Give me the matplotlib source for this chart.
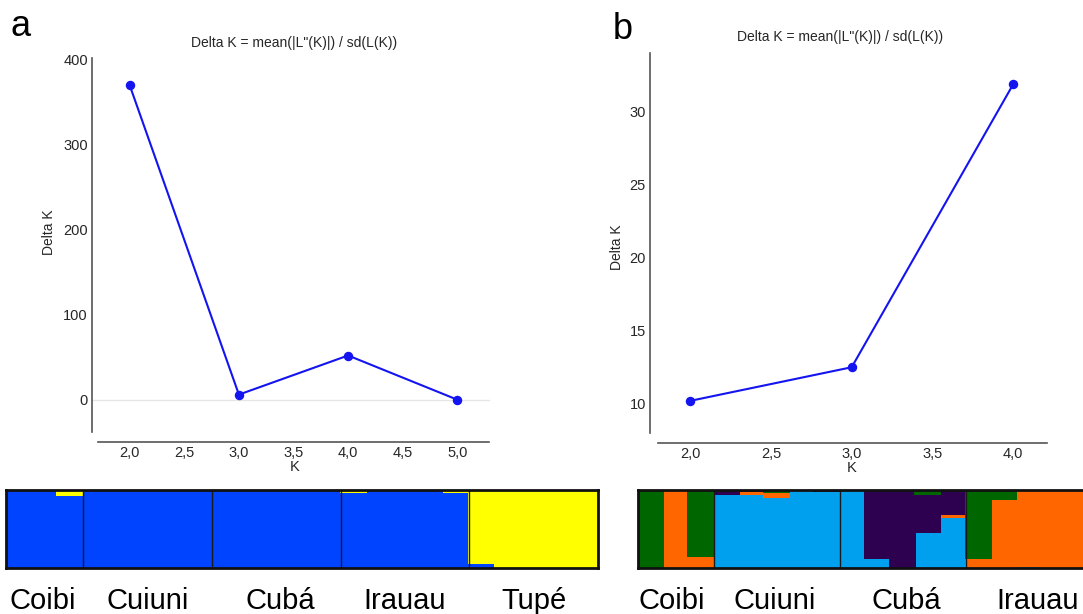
import matplotlib
matplotlib.use('Agg')
import matplotlib.pyplot as plt
from matplotlib.ticker import FixedLocator, FuncFormatter
import numpy as np

plt.rcParams['font.family'] = ['Liberation Sans', 'DejaVu Sans']

# ---------------- data ----------------
k_a = [2, 3, 4, 5]
dk_a = [370, 6, 52, 0]
k_b = [2, 3, 4]
dk_b = [10.2, 12.5, 31.85]
xticks_a = [2.0, 2.5, 3.0, 3.5, 4.0, 4.5, 5.0]
yticks_a = [0, 100, 200, 300, 400]
xticks_b = [2.0, 2.5, 3.0, 3.5, 4.0]
yticks_b = [10, 15, 20, 25, 30]
title_text = 'Delta K = mean(|L"(K)|) / sd(L(K))'

pops_a = ['Coibi', 'Cuiuni', 'Cubá', 'Irauau', 'Tupé']
sizes_a = [3, 5, 5, 5, 5]
a_blue = [1.0, 1.0, 0.935, 1.0, 1.0, 1.0, 1.0, 1.0, 1.0, 1.0, 1.0, 1.0, 1.0,
          0.97, 1.0, 1.0, 1.0, 0.98, 0.06, 0.0, 0.0, 0.0, 0.0]
a_yellow = [0.0, 0.0, 0.065, 0.0, 0.0, 0.0, 0.0, 0.0, 0.0, 0.0, 0.0, 0.0, 0.0,
            0.03, 0.0, 0.0, 0.0, 0.02, 0.94, 1.0, 1.0, 1.0, 1.0]

pops_b = ['Coibi', 'Cuiuni', 'Cubá', 'Irauau']
sizes_b = [3, 5, 5, 5]
b_lightblue = [0.0, 0.0, 0.0, 0.95, 0.95, 0.91, 1.0, 0.99,
               1.0, 0.13, 0.0, 0.46, 0.66, 0.0, 0.01, 0.03, 0.0, 0.0]
b_orange = [0.01, 1.0, 0.15, 0.0, 0.04, 0.07, 0.0, 0.0,
            0.0, 0.0, 0.0, 0.0, 0.03, 0.13, 0.88, 0.97, 1.0, 1.0]
b_purple = [0.0, 0.0, 0.0, 0.05, 0.01, 0.0, 0.0, 0.01,
            0.0, 0.87, 1.0, 0.49, 0.31, 0.0, 0.0, 0.0, 0.0, 0.0]
b_green = [0.99, 0.0, 0.85, 0.0, 0.0, 0.02, 0.0, 0.0,
           0.0, 0.0, 0.0, 0.05, 0.0, 0.87, 0.11, 0.0, 0.0, 0.0]

# ---------------- layout helpers ----------------
W, H = 1083, 614
fig = plt.figure(figsize=(W / 100, H / 100), dpi=100)
fig.patch.set_facecolor('white')


def rect(x0, y0, x1, y1):
    return [x0 / W, 1 - y1 / H, (x1 - x0) / W, (y1 - y0) / H]


def px2pt(p):
    return p * 72 / 100


line_color = '#1414f0'
spine_color = '#555555'
text_color = '#262626'
comma_fmt = FuncFormatter(lambda v, p: f'{v:.1f}'.replace('.', ','))


def delta_plot(box, k, dk, xt, yt, xlim, ylim, left_off, bottom_off,
               title_xy, xlab_xy, ylab_xy, zero_line=False):
    ax = fig.add_axes(rect(*box))
    ax.set_facecolor('white')
    if zero_line:
        ax.axhline(0, xmin=-0.015, xmax=1.0, color='#e6e6e6', lw=1.0,
                   clip_on=False, zorder=1)
    ax.plot(k, dk, color=line_color, lw=1.5, marker='o', ms=5.8,
            markerfacecolor=line_color, markeredgecolor=line_color, zorder=3)
    ax.set_xlim(*xlim)
    ax.set_ylim(*ylim)
    for s in ['top', 'right']:
        ax.spines[s].set_visible(False)
    ax.spines['left'].set_position(('outward', px2pt(left_off)))
    ax.spines['bottom'].set_position(('outward', px2pt(bottom_off)))
    for s in ['left', 'bottom']:
        ax.spines[s].set_color(spine_color)
        ax.spines[s].set_linewidth(1.2)
    ax.xaxis.set_major_locator(FixedLocator(xt))
    ax.xaxis.set_major_formatter(comma_fmt)
    ax.yaxis.set_major_locator(FixedLocator(yt))
    ax.tick_params(length=0, labelsize=10.5, labelcolor=text_color, pad=3)
    ax.set_xlabel('K', fontsize=10.5, color=text_color, va='center')
    ax.xaxis.set_label_coords(*xlab_xy)
    ax.set_ylabel('Delta K', fontsize=10, color=text_color, va='center')
    ax.yaxis.set_label_coords(*ylab_xy)
    ax.text(title_xy[0], title_xy[1], title_text, transform=ax.transAxes,
            ha='center', va='center', fontsize=10, color=text_color)
    return ax


delta_plot((98, 58, 489, 432), k_a, dk_a, xticks_a, yticks_a,
           (1.71, 5.29), (-38, 402), 6, 10,
           (0.501, 1.040), (0.504, -0.093), (-0.125, 0.535), zero_line=True)

delta_plot((658, 53, 1047, 433), k_b, dk_b, xticks_b, yticks_b,
           (1.8, 4.21), (8.0, 34.0), 8, 10,
           (0.468, 1.042), (0.499, -0.092), (-0.105, 0.489))

# panel letters
fig.text(11 / W, 1 - 36 / H, 'a', fontsize=26, ha='left', va='baseline', color='black')
fig.text(613 / W, 1 - 39 / H, 'b', fontsize=26, ha='left', va='baseline', color='black')


def structure_plot(box, sizes, pops, comps, colors, nudges_px):
    ax = fig.add_axes(rect(*box))
    n = len(comps[0])
    x = np.arange(n) + 0.5
    bottom = np.zeros(n)
    for vals, col in zip(comps, colors):
        vals = np.asarray(vals, dtype=float)
        ax.bar(x, vals, width=1.0, bottom=bottom, color=col, edgecolor=col,
               linewidth=0.3, antialiased=False)
        bottom += vals
    ax.set_xlim(0, n)
    ax.set_ylim(0, 1)
    bounds = np.cumsum(sizes)
    for b in bounds[:-1]:
        ax.axvline(b, color='#1a1a1a', lw=1.0)
    for s in ax.spines.values():
        s.set_color('#111111')
        s.set_linewidth(2.0)
    ax.set_xticks([])
    ax.set_yticks([])
    starts = np.concatenate([[0], bounds[:-1]])
    centers = (starts + bounds) / 2
    px_per_unit = (box[2] - box[0]) / n
    tr = ax.get_xaxis_transform()
    for c, name, nd in zip(centers, pops, nudges_px):
        ax.text(c + nd / px_per_unit, (box[3] - 609) / (box[3] - box[1]), name,
                transform=tr, ha='center', va='baseline', fontsize=21,
                color='black')
    return ax


structure_plot((6, 490, 598, 568), sizes_a, pops_a, [a_blue, a_yellow],
               ['#0044ff', '#ffff00'], [-2, 0, 4, 0, 0])

structure_plot((638, 490, 638 + 18 * 25.2, 568), sizes_b, pops_b,
               [b_lightblue, b_orange, b_purple, b_green],
               ['#00a0ee', '#ff6600', '#2d0050', '#006600'], [-4, -2, 4, 9])

fig.savefig('out.png', dpi=100, facecolor='white')
